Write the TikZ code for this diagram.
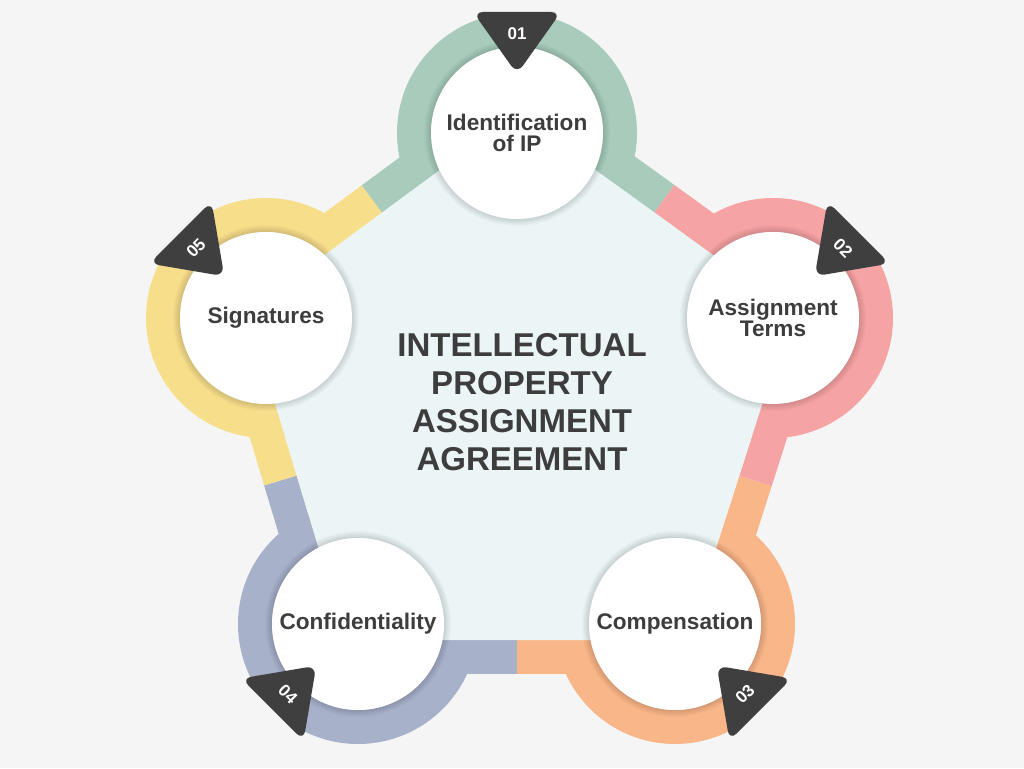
\documentclass[tikz,border=0pt]{standalone}
\usepackage{fontspec}
\setmainfont{Liberation Sans}
\usetikzlibrary{calc}

\definecolor{bgGray}{HTML}{F5F5F5}
\definecolor{paleBlue}{HTML}{ECF5F6}
\definecolor{ipGreen}{HTML}{A8CBBC}
\definecolor{termsPink}{HTML}{F6A3A4}
\definecolor{payOrange}{HTML}{F9B688}
\definecolor{confBlue}{HTML}{A7B1C9}
\definecolor{signYellow}{HTML}{F7DE8B}
\definecolor{badgeGray}{HTML}{3F3F3F}
\definecolor{txtGray}{HTML}{3D3D3D}

\begin{document}
\begin{tikzpicture}[x=1pt,y=1pt,
	band/.style={line width=34pt},
	ring/.style={line width=34pt},
	stage/.style={circle, fill=white, minimum size=172pt, inner sep=0pt, align=center,
		text=txtGray, font=\fontsize{22.6}{21.5}\selectfont\bfseries},
	badge/.style={fill=badgeGray, rounded corners=10pt},
	num/.style={text=white, font=\fontsize{17}{17}\selectfont\bfseries}]
	\fill[bgGray] (0,0) rectangle (1024,768);
	\useasboundingbox (0,0) rectangle (1024,768);
	
	\coordinate (p1) at (517,635);
	\coordinate (p2) at (773,450);
	\coordinate (p3) at (675,144);
	\coordinate (p4) at (358,144);
	\coordinate (p5) at (266,450);
	
	% coloured bands along the edges
	\foreach \a/\b/\ca/\cb in {p1/p2/ipGreen/termsPink, p2/p3/termsPink/payOrange,
		p3/p4/payOrange/confBlue, p4/p5/confBlue/signYellow, p5/p1/signYellow/ipGreen} {
		\coordinate (s) at ($(\a)!33pt!90:(\b)$);
		\coordinate (t) at ($(\b)!33pt!-90:(\a)$);
		\draw[band, \ca] (s) -- ($(s)!0.5!(t)$);
		\draw[band, \cb] ($(s)!0.5!(t)$) -- (t);
	}
	
	% rings
	\foreach \p/\c in {p1/ipGreen, p2/termsPink, p3/payOrange, p4/confBlue, p5/signYellow}
		\draw[ring, \c] (\p) circle (103pt);
	
	\filldraw[paleBlue, line width=32pt, line join=miter] (p1) -- (p2) -- (p3) -- (p4) -- (p5) -- cycle;
	
	% soft shadows
	\foreach \p in {p1,p2,p3,p4,p5}
		\foreach \k in {1,...,7}
			\fill[black, opacity=0.018] (\p) circle [radius={(86+\k)*1pt}];
	
	\node[stage] (ip) at (p1) {Identification\\of IP};
	\node[stage] (terms) at (p2) {Assignment\\Terms};
	\node[stage] (pay) at (p3) {Compensation};
	\node[stage] (conf) at (p4) {Confidentiality};
	\node[stage] (sign) at (p5) {Signatures};
	
	\node[text=txtGray, align=center, font=\fontsize{33}{38}\selectfont\bfseries] (title)
		at (522,366) {INTELLECTUAL\\PROPERTY\\ASSIGNMENT\\AGREEMENT};
	
	% numbered badges
	\foreach \p/\a/\t/\n in {p1/0/0/01, p2/-45/-45/02, p3/-135/45/03, p4/135/-45/04, p5/45/45/05} {
		\begin{scope}[shift={(\p)}, rotate=\a]
			\fill[badge] (-44,121) -- (44,121) -- (0,59) -- cycle;
			\node[num, rotate=\t] (b\n) at (0,99) {\n};
		\end{scope}
	}
\end{tikzpicture}
\end{document}
